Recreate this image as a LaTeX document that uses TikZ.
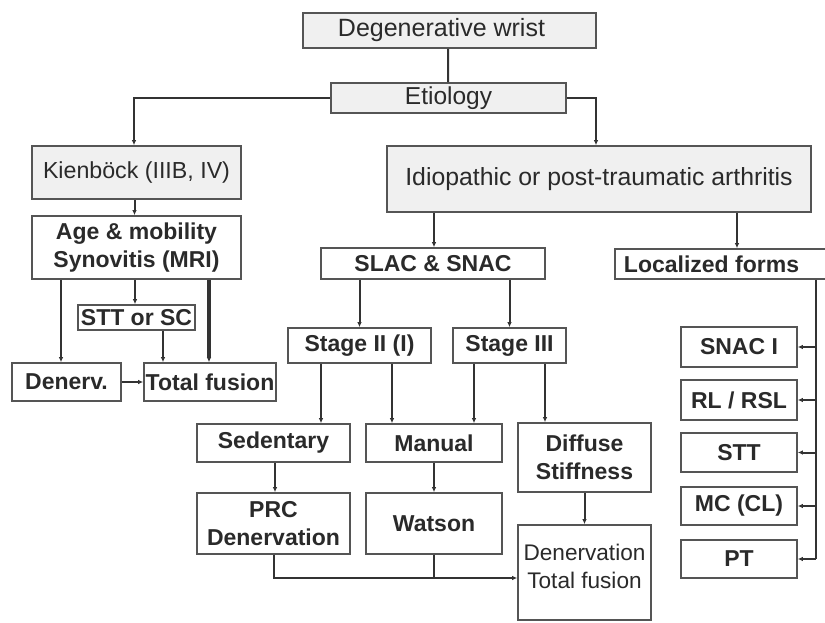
\documentclass[tikz,border=0pt]{standalone}
\usepackage{fontspec}
\setmainfont{Liberation Sans}
\usetikzlibrary{arrows.meta}
\definecolor{boxgray}{HTML}{555555}
\definecolor{fillgray}{HTML}{F0F0F0}
\definecolor{textgray}{HTML}{2A2A2A}
\definecolor{linegray}{HTML}{333333}
\begin{document}
\begin{tikzpicture}[x=1bp,y=-1bp,
  box/.style={draw=boxgray, line width=1.6bp, inner sep=0pt, align=center, text=textgray, fill=white,
    font=\bfseries\fontsize{23bp}{28bp}\selectfont},
  gbox/.style={box, fill=fillgray, font=\fontsize{24.5bp}{29bp}\selectfont},
  conn/.style={draw=linegray, line width=2bp},
  arr/.style={conn, -{Latex[length=5bp,width=4.5bp]}},
]
\useasboundingbox (0,0) rectangle (825,623);
\fill[white] (0,0) rectangle (825,623);
\clip (0,0) rectangle (825,623);

% top level
\node[gbox, minimum width=293bp, minimum height=35bp, font=\fontsize{25bp}{29bp}\selectfont] (deg) at (449.5,30.5) {\hspace*{-16bp}Degenerative wrist};
\node[gbox, minimum width=235bp, minimum height=30bp] (etio) at (448.5,98) {Etiology};
\node[gbox, minimum width=209bp, minimum height=53bp, font=\fontsize{23.2bp}{28bp}\selectfont] (kien) at (136.5,172.5) {Kienböck (IIIB, IV)};
\node[gbox, minimum width=424bp, minimum height=66bp, font=\fontsize{24.8bp}{29bp}\selectfont] (idio) at (599,179) {Idiopathic or post-traumatic arthritis};

% left branch
\node[box, minimum width=209bp, minimum height=63bp] (age) at (136.5,247.5) {Age \& mobility\\Synovitis (MRI)};
\node[box, minimum width=117bp, minimum height=25bp] (sttsc) at (136.5,317.5) {STT or SC};
\node[box, minimum width=109bp, minimum height=38bp] (denerv) at (66.5,382) {Denerv.};
\node[box, minimum width=132bp, minimum height=38bp] (tf) at (210,382) {Total fusion};

% middle branch
\node[box, minimum width=224bp, minimum height=31bp] (slac) at (433,263.5) {SLAC \& SNAC};
\node[box, minimum width=143bp, minimum height=35bp] (st2) at (359.5,345.5) {Stage II (I)};
\node[box, minimum width=113bp, minimum height=35bp] (st3) at (509.5,345.5) {Stage III};
\node[box, minimum width=153bp, minimum height=38bp] (sed) at (273.5,443) {Sedentary};
\node[box, minimum width=136bp, minimum height=38bp] (man) at (434,443) {Manual};
\node[box, minimum width=133bp, minimum height=69bp] (diff) at (584.5,457.5) {Diffuse\\Stiffness};
\node[box, minimum width=153bp, minimum height=61bp] (prc) at (273.5,523.5) {PRC\\Denervation};
\node[box, minimum width=136bp, minimum height=61bp] (wat) at (434,523.5) {Watson};
\node[box, minimum width=133bp, minimum height=95bp, font=\fontsize{22.6bp}{28bp}\selectfont] (dtf) at (584.5,572.5) {Denervation\\Total fusion\\[-16bp]\mbox{}};

% right branch
\node[box, minimum width=213bp, minimum height=30bp] (loc) at (721.5,264) {\hspace*{-20bp}Localized forms};
\node[box, minimum width=116bp, minimum height=40bp] (snac) at (739,347) {SNAC I};
\node[box, minimum width=116bp, minimum height=40bp] (rl) at (739,400) {RL / RSL};
\node[box, minimum width=116bp, minimum height=39bp] (stt) at (739,452.5) {STT};
\node[box, minimum width=116bp, minimum height=38bp] (mc) at (739,506) {MC (CL)};
\node[box, minimum width=116bp, minimum height=38bp] (pt) at (739,559) {PT};

% connectors
\draw[conn] ([xshift=-1.5bp]deg.south) -- ([xshift=-0.5bp]etio.north);
\draw[arr, line width=2.4bp] (etio.west) -| ([xshift=-2.5bp]kien.north);
\draw[arr, line width=2.4bp] (etio.east) -| ([xshift=-3bp]idio.north);
\draw[arr] ([xshift=-2bp]kien.south) -- ([xshift=-2bp]age.north);

\draw[arr] ([xshift=-5.5bp]denerv.north |- age.south) -- ([xshift=-5.5bp]denerv.north);
\draw[arr] ([xshift=-1.5bp]age.south) -- ([xshift=-1.5bp]sttsc.north);
\draw[arr] ([xshift=-47bp]tf.north |- sttsc.south) -- ([xshift=-47bp]tf.north);
\draw[arr, line width=3.4bp] ([xshift=-1bp]tf.north |- age.south) -- ([xshift=-1bp]tf.north);
\draw[arr] (denerv.east) -- (tf.west);

\draw[arr] ([xshift=1bp]slac.north |- idio.south) -- ([xshift=1bp]slac.north);
\draw[arr] ([xshift=15.5bp]loc.north |- idio.south) -- ([xshift=15.5bp]loc.north);

\draw[arr] (st2.north |- slac.south) -- (st2.north);
\draw[arr] (st3.north |- slac.south) -- (st3.north);
\draw[arr] ([xshift=47.5bp]sed.north |- st2.south) -- ([xshift=47.5bp]sed.north);
\draw[arr] ([xshift=-42bp]man.north |- st2.south) -- ([xshift=-42bp]man.north);
\draw[arr] ([xshift=40bp]man.north |- st3.south) -- ([xshift=40bp]man.north);
\draw[arr] ([xshift=-39.5bp]diff.north |- st3.south) -- ([xshift=-39.5bp]diff.north);

\draw[arr] ([xshift=1.5bp]sed.south) -- ([xshift=1.5bp]prc.north);
\draw[arr] (man.south) -- (wat.north);
\draw[arr] (diff.south) -- (dtf.north);

\coordinate (join) at ([yshift=-5.5bp]dtf.west);
\draw[arr] (prc.south) |- (join);
\draw[conn] (wat.south) -- (wat.south |- join);

\coordinate (rail) at ([xshift=94.5bp]loc.south);
\draw[conn] (rail) -- (rail |- pt.east);
\foreach \n in {snac,rl,stt,mc,pt}{
  \draw[arr] (rail |- \n.east) -- (\n.east);
}
\end{tikzpicture}
\end{document}
